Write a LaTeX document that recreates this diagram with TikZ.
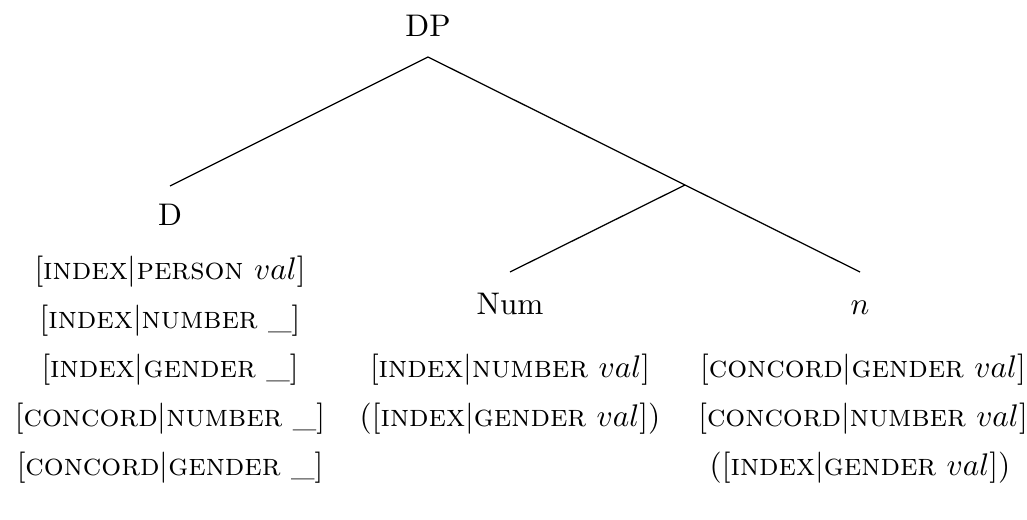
\documentclass[tikz,border=0pt]{standalone}
\usepackage{amsmath}
\newcommand{\fbar}{$|$}
\begin{document}
\begin{tikzpicture}[x=0.32pt,y=-0.32pt,
  lab/.style={anchor=base,inner sep=0pt},
  br/.style={line width=0.4pt}]
\useasboundingbox (0,0) rectangle (1027,520);
% labels
\node[lab] (DP) at (428,37) {DP};
\node[lab] (D) at (170,226) {D};
\node[lab] (Num) at (510,315) {Num};
\node[lab] (n) at (860,315) {$n$};
% D features
\node[lab] (d1) at (170,280) {[\textsc{index}\fbar\textsc{person} $val$]};
\node[lab] (d2) at (170,329) {[\textsc{index}\fbar\textsc{number} \_]};
\node[lab] (d3) at (170,378) {[\textsc{index}\fbar\textsc{gender} \_]};
\node[lab] (d4) at (170,427) {[\textsc{concord}\fbar\textsc{number} \_]};
\node[lab] (d5) at (170,476) {[\textsc{concord}\fbar\textsc{gender} \_]};
% Num features
\node[lab] (m1) at (510,378) {[\textsc{index}\fbar\textsc{number} $val$]};
\node[lab] (m2) at (510,427) {([\textsc{index}\fbar\textsc{gender} $val$])};
% n features
\node[lab] (n1) at (863,378) {[\textsc{concord}\fbar\textsc{gender} $val$]};
\node[lab] (n2) at (863,427) {[\textsc{concord}\fbar\textsc{number} $val$]};
\node[lab] (n3) at (860,476) {([\textsc{index}\fbar\textsc{gender} $val$])};
% branches
\coordinate (dpb) at (428,57);
\coordinate (dt) at (170,186);
\coordinate (x) at (685,185);
\coordinate (numt) at (510,272);
\coordinate (nt) at (860,272);
\draw[br] (dpb) -- (dt);
\draw[br] (dpb) -- (x) -- (nt);
\draw[br] (x) -- (numt);
\end{tikzpicture}
\end{document}
